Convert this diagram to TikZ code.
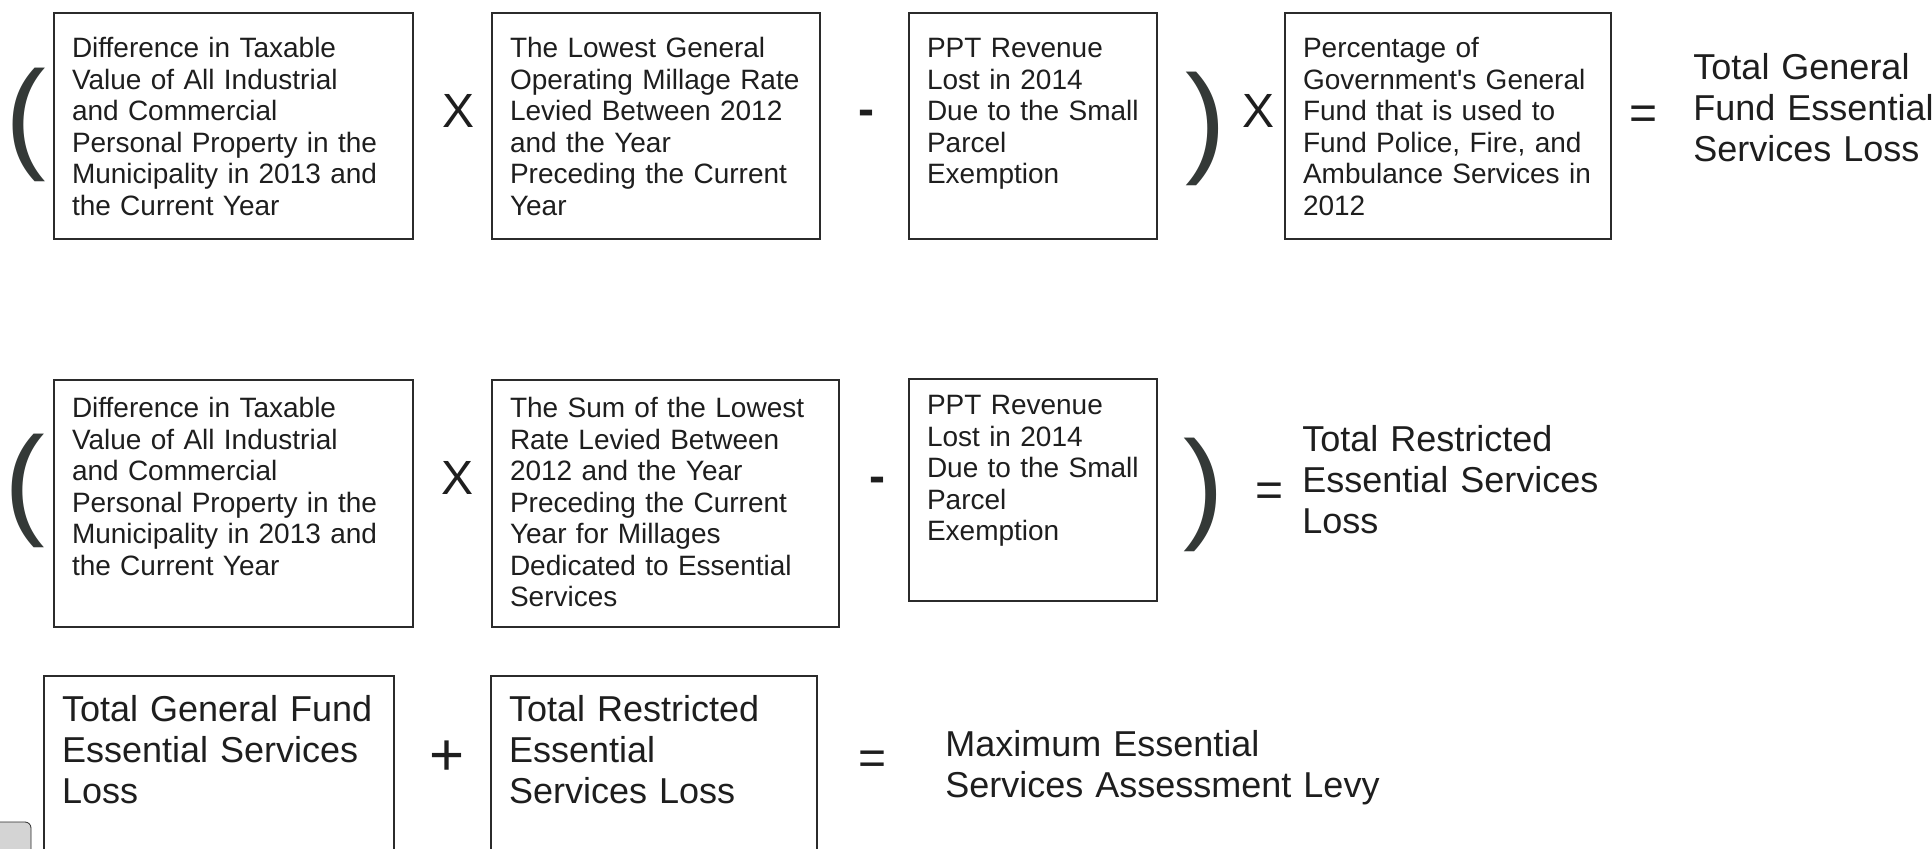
\documentclass[tikz,border=0pt]{standalone}
\usepackage{fontspec}
\setmainfont{Liberation Sans}
\usepackage{tikz}
\definecolor{ink}{HTML}{1E1E1E}
\definecolor{boxline}{HTML}{2B2B2B}
\definecolor{parengray}{HTML}{343937}
\definecolor{tabgray}{HTML}{D4D4D4}
\tikzset{
  term/.style    = {draw=boxline,line width=1pt,anchor=north west,align=left,
                    inner xsep=9pt,inner ysep=0pt,text=ink,
                    font=\fontsize{14}{15.75}\selectfont},
  rowA/.style    = {term,text height=22.5pt,text depth=90.5pt},
  rowB/.style    = {term,text height=19pt,text depth=104.5pt},
  rowC/.style    = {term,text height=22.5pt,text depth=90pt,
                    font=\fontsize{18}{20.5}\selectfont},
  opsym/.style   = {anchor=base,inner sep=0pt,text=ink,
                    font=\fontsize{24}{24}\selectfont},
  paren/.style   = {anchor=base,inner sep=0pt,text=parengray,
                    font=\fontsize{61}{61}\selectfont},
  result/.style  = {anchor=base west,inner sep=0pt,align=left,text=ink,
                    font=\fontsize{18}{20.5}\selectfont},
}

\begin{document}
\begin{tikzpicture}[x=0.5pt,y=-0.5pt]
  \useasboundingbox (0,0) rectangle (1932,849);
  % General fund loss
  \node[paren] (gfOpen) at (26,157) {(};
  \node[rowA,text width=161.5pt] (gfDiff) at (53,12)
        {Difference in Taxable\\ Value of All Industrial\\ and Commercial\\
         Personal Property in the\\ Municipality in 2013 and\\ the Current Year};
  \node[rowA,text width=146pt] (gfRate) at (491,12)
        {The Lowest General\\ Operating Millage Rate\\ Levied Between 2012\\
         and the Year\\ Preceding the Current\\ Year};
  \node[rowA,text width=106pt] (gfPpt) at (908,12)
        {PPT Revenue\\ Lost in 2014\\ Due to the Small\\ Parcel\\ Exemption};
  \node[paren] (gfClose) at (1206,161) {)};
  \node[rowA,text width=145pt] (gfPct) at (1284,12)
        {Percentage of\\ Government\textquotesingle s General\\ Fund that is used to\\
         Fund Police, Fire, and\\ Ambulance Services in\\ 2012};
  \node[result,text width=130pt] (gfTotal) at (1693,80)
        {Total General\\ Fund Essential\\ Services Loss};

  % Restricted loss
  \node[paren] (esOpen) at (25,523) {(};
  \node[rowB,text width=161.5pt] (esDiff) at (53,379)
        {Difference in Taxable\\ Value of All Industrial\\ and Commercial\\
         Personal Property in the\\ Municipality in 2013 and\\ the Current Year};
  \node[rowB,text width=155.5pt] (esRate) at (491,379)
        {The Sum of the Lowest\\ Rate Levied Between\\ 2012 and the Year\\
         Preceding the Current\\ Year for Millages\\ Dedicated to Essential\\
         Services};
  \node[rowB,text width=106pt,text height=18pt,text depth=93pt] (esPpt)
        at (908,378)
        {PPT Revenue\\ Lost in 2014\\ Due to the Small\\ Parcel\\ Exemption};
  \node[paren] (esClose) at (1204,527) {)};
  \node[result,text width=150pt] (esTotal) at (1302,452)
        {Total Restricted\\ Essential Services\\ Loss};

  % Sum of both
  \node[rowC,text width=157pt] (sumGf) at (43,675)
        {Total General Fund\\ Essential Services\\ Loss};
  \node[rowC,text width=145pt] (sumEs) at (490,675)
        {Total Restricted\\ Essential\\ Services Loss};
  \node[result,text width=230pt] (levy) at (945,756)
        {Maximum Essential\\ Services Assessment Levy};

  % Operators
  \foreach \nm/\x/\y in {gfTimesA/459/128, gfTimesB/1258/128, esTimes/458/495}
    \node[opsym] (\nm) at (\x,\y) {X};
  \foreach \nm/\x/\y in {gfMinus/866/126, esMinus/877/493}
    \node[opsym,font=\fontsize{24}{24}\selectfont\bfseries] (\nm) at (\x,\y) {-};
  \foreach \nm/\x/\y in {gfEq/1643/130, esEq/1269/507, levyEq/873/774}
    \node[opsym] (\nm) at (\x,\y) {=};
  \node[opsym,font=\fontsize{30}{30}\selectfont] (sumPlus) at (447,775) {+};

  % Corner tab
  \draw[draw=boxline,fill=tabgray,rounded corners=3pt] (-10,822) rectangle (31,880);
\end{tikzpicture}
\end{document}
